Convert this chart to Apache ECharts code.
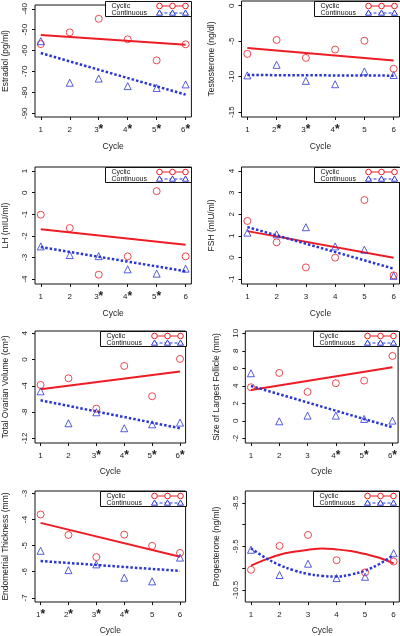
<!DOCTYPE html>
<html><head><meta charset="utf-8">
<script src="https://cdn.jsdelivr.net/npm/echarts@6/dist/echarts.min.js"></script>
<style>html,body{margin:0;padding:0;background:#fff}#c{width:400px;height:636px}</style>
</head><body><div id="c"></div>
<script>
// ---------- data ----------
const cycles = [1, 2, 3, 4, 5, 6];
const fitCycles = [1, 6];

const estradiolCyclic = [-56.9, -51.3, -44.8, -54.6, -64.7, -57.0];
const estradiolContinuous = [-55.5, -75.4, -73.4, -77.0, -77.9, -76.2];
const estradiolCyclicFit = [-52.6, -57.2];
const estradiolContinuousFit = [-61.2, -81.1];
const estradiolTicks = [-90, -80, -70, -60, -50, -40];
const estradiolCycleLabels = ['1', '2', '3*', '4*', '5*', '6*'];

const testosteroneCyclic = [-6.8, -4.84, -7.36, -6.19, -4.94, -8.9];
const testosteroneContinuous = [-9.83, -8.34, -10.6, -11.08, -9.27, -9.78];
const testosteroneCyclicFit = [-5.96, -7.73];
const testosteroneContinuousFit = [-9.78, -9.87];
const testosteroneTicks = [-15, -10, -5, 0];
const testosteroneCycleLabels = ['1', '2*', '3*', '4*', '5', '6'];

const lhCyclic = [-1.02, -1.64, -3.8, -2.95, 0.07, -2.95];
const lhContinuous = [-2.49, -2.89, -2.94, -3.55, -3.75, -3.52];
const lhCyclicFit = [-1.69, -2.41];
const lhContinuousFit = [-2.52, -3.64];
const lhTicks = [-4, -3, -2, -1, 0, 1];
const lhCycleLabels = ['1', '2', '3*', '4*', '5*', '6'];

const fshCyclic = [1.69, 0.70, -0.46, -0.01, 2.66, -0.83];
const fshContinuous = [1.15, 1.07, 1.40, 0.51, 0.36, -0.85];
const fshCyclicFit = [1.22, -0.01];
const fshContinuousFit = [1.41, -0.52];
const fshTicks = [-1, 0, 1, 2, 3, 4];
const fshCycleLabels = ['1', '2', '3', '4', '5', '6'];

const ovaryCyclic = [-3.87, -2.86, -7.48, -0.98, -5.6, 0.09];
const ovaryContinuous = [-4.84, -9.71, -8.04, -10.47, -9.87, -9.61];
const ovaryCyclicFit = [-4.53, -1.84];
const ovaryContinuousFit = [-6.21, -10.47];
const ovaryTicks = [-12, -8, -4, 0, 4];
const ovaryCycleLabels = ['1', '2', '3*', '4*', '5*', '6*'];

const follicleCyclic = [3.83, 5.47, 3.3, 4.29, 4.59, 7.41];
const follicleContinuous = [5.43, -0.06, 0.59, 0.59, 0.21, 0.02];
const follicleCyclicFit = [3.52, 6.11];
const follicleContinuousFit = [3.98, -0.74];
const follicleTicks = [-2, 0, 2, 4, 6, 8, 10];
const follicleCycleLabels = ['1', '2', '3', '4*', '5*', '6*'];

const endoCyclic = [-3.81, -4.59, -5.44, -4.58, -5.01, -5.28];
const endoContinuous = [-5.2, -5.94, -5.72, -6.23, -6.37, -5.46];
const endoCyclicFit = [-4.13, -5.43];
const endoContinuousFit = [-5.59, -5.97];
const endoTicks = [-7, -6, -5, -4, -3];
const endoCycleLabels = ['1*', '2*', '3*', '4*', '5', '6'];

const progCyclic = [-10.04, -9.49, -9.24, -9.82, -10.1, -9.85];
const progContinuous = [-9.58, -10.16, -9.9, -10.23, -10.2, -9.66];
const progFitCycles = [1, 1.5, 2, 2.5, 3, 3.5, 4, 4.5, 5, 5.5, 6];
const progCyclicFit = [-9.945, -9.808, -9.694, -9.625, -9.580, -9.549, -9.572, -9.610, -9.679, -9.762, -9.892];
const progContinuousFit = [-9.549, -9.762, -9.930, -10.051, -10.135, -10.181, -10.196, -10.150, -10.059, -9.907, -9.700];
const progTicks = [-10.5, -10, -9.5, -9, -8.5];
const progTickLabels = [-10.5, -9.5, -8.5];
const progCycleLabels = ['1', '2', '3', '4', '5', '6'];

// ---------- layout / styles ----------
const RED = '#ee1c24';
const BLUE = '#2a35d8';
const FONT = 'Liberation Sans, Arial, sans-serif';

const panels = [
  {title: 'Estradiol (pg/ml)', cyc: estradiolCyclic, con: estradiolContinuous, cycFit: estradiolCyclicFit, conFit: estradiolContinuousFit, fitX: fitCycles, ticks: estradiolTicks, tickLabels: estradiolTicks, xl: estradiolCycleLabels, ymin: -91.8, ymax: -38.2, rect: [32.4, 1, 159, 116], nameGap: 25, xNameGap: 25},
  {title: 'Testosterone (ng/dl)', cyc: testosteroneCyclic, con: testosteroneContinuous, cycFit: testosteroneCyclicFit, conFit: testosteroneContinuousFit, fitX: fitCycles, ticks: testosteroneTicks, tickLabels: testosteroneTicks, xl: testosteroneCycleLabels, ymin: -15.7, ymax: 0.66, rect: [241.5, 1, 158, 116], nameGap: 25, xNameGap: 25},
  {title: 'LH (mIU/ml)', cyc: lhCyclic, con: lhContinuous, cycFit: lhCyclicFit, conFit: lhContinuousFit, fitX: fitCycles, ticks: lhTicks, tickLabels: lhTicks, xl: lhCycleLabels, ymin: -4.23, ymax: 1.19, rect: [32.4, 167, 159, 117], nameGap: 25, xNameGap: 25},
  {title: 'FSH (mIU/ml)', cyc: fshCyclic, con: fshContinuous, cycFit: fshCyclicFit, conFit: fshContinuousFit, fitX: fitCycles, ticks: fshTicks, tickLabels: fshTicks, xl: fshCycleLabels, ymin: -1.23, ymax: 4.19, rect: [241.5, 167, 158, 117], nameGap: 25, xNameGap: 25},
  {title: 'Total Ovarian Volume (cm³)', cyc: ovaryCyclic, con: ovaryContinuous, cycFit: ovaryCyclicFit, conFit: ovaryContinuousFit, fitX: fitCycles, ticks: ovaryTicks, tickLabels: ovaryTicks, xl: ovaryCycleLabels, ymin: -12.72, ymax: 4.35, rect: [31.6, 331, 154, 112], nameGap: 25, xNameGap: 24},
  {title: 'Size of Largest Follicle (mm)', cyc: follicleCyclic, con: follicleContinuous, cycFit: follicleCyclicFit, conFit: follicleContinuousFit, fitX: fitCycles, ticks: follicleTicks, tickLabels: follicleTicks, xl: follicleCycleLabels, ymin: -2.54, ymax: 10.26, rect: [245.3, 331, 154, 112], nameGap: 24, xNameGap: 24},
  {title: 'Endometrial Thickness (mm)', cyc: endoCyclic, con: endoContinuous, cycFit: endoCyclicFit, conFit: endoContinuousFit, fitX: fitCycles, ticks: endoTicks, tickLabels: endoTicks, xl: endoCycleLabels, ymin: -7.16, ymax: -2.91, rect: [31.6, 491, 154, 112], nameGap: 25, xNameGap: 24},
  {title: 'Progesterone (ng/ml)', cyc: progCyclic, con: progContinuous, cycFit: progCyclicFit, conFit: progContinuousFit, fitX: progFitCycles, smooth: true, ticks: progTicks, tickLabels: progTickLabels, xl: progCycleLabels, ymin: -10.78, ymax: -8.23, rect: [245.3, 491, 154, 112], nameGap: 24, xNameGap: 24}
];

const grids = [], xAxes = [], yAxes = [], series = [], graphics = [];

panels.forEach((p, i) => {
  const [l, t, w, h] = p.rect;
  grids.push({left: l, top: t, width: w, height: h, show: true, borderColor: '#111', borderWidth: 1, backgroundColor: 'transparent'});
  xAxes.push({
    gridIndex: i, type: 'value', min: 0.8, max: 6.2,
    name: 'Cycle', nameLocation: 'middle', nameGap: p.xNameGap,
    nameTextStyle: {fontFamily: FONT, fontSize: 8.5, color: '#222'},
    axisLine: {show: false, onZero: false},
    splitLine: {show: false},
    axisTick: {show: true, length: 3, customValues: cycles, lineStyle: {color: '#111'}},
    axisLabel: {
      customValues: cycles, margin: 8, fontFamily: FONT, fontSize: 8, lineHeight: 9, color: '#222',
      formatter: v => p.xl[Math.round(v) - 1].replace('*', '{s|*}'),
      rich: {s: {fontFamily: FONT, fontSize: 12, fontWeight: 'bold', lineHeight: 9, color: '#222'}}
    }
  });
  yAxes.push({
    gridIndex: i, type: 'value', min: p.ymin, max: p.ymax,
    name: p.title, nameLocation: 'middle', nameGap: p.nameGap,
    nameTextStyle: {fontFamily: FONT, fontSize: 8.5, color: '#222'},
    axisLine: {show: false, onZero: false},
    splitLine: {show: false},
    axisTick: {show: true, length: 3, customValues: p.ticks, lineStyle: {color: '#111'}},
    axisLabel: {customValues: p.tickLabels, rotate: 90, margin: 6, fontFamily: FONT, fontSize: 8, color: '#222'}
  });
  series.push({
    type: 'scatter', xAxisIndex: i, yAxisIndex: i, symbol: 'circle', symbolSize: 7,
    itemStyle: {color: 'rgba(0,0,0,0)', borderColor: RED, borderWidth: 1},
    data: cycles.map((c, k) => [c, p.cyc[k]]), z: 3
  });
  series.push({
    type: 'scatter', xAxisIndex: i, yAxisIndex: i, symbol: 'triangle', symbolSize: 7,
    itemStyle: {color: 'rgba(0,0,0,0)', borderColor: BLUE, borderWidth: 1},
    data: cycles.map((c, k) => [c, p.con[k]]), z: 3
  });
  series.push({
    type: 'line', xAxisIndex: i, yAxisIndex: i, showSymbol: false, smooth: p.smooth ? 0.4 : false,
    lineStyle: {color: RED, width: 2}, data: p.fitX.map((c, k) => [c, p.cycFit[k]]), z: 2
  });
  series.push({
    type: 'line', xAxisIndex: i, yAxisIndex: i, showSymbol: false, smooth: p.smooth ? 0.4 : false,
    lineStyle: {color: BLUE, width: 2.5, type: [2.5, 2]}, data: p.fitX.map((c, k) => [c, p.conFit[k]]), z: 2
  });

  // legend box (top-right of each panel)
  const lw = 86, lh = 15;
  const x0 = Math.round(l + w - lw) + 0.5, y0 = Math.round(t) + 0.5;
  const r1 = 4.5, r2 = 11.5, sx = [54, 67, 80];
  const kids = [
    {type: 'rect', shape: {x: 0, y: 0, width: lw, height: lh}, style: {fill: '#fff', stroke: '#111', lineWidth: 1}},
    {type: 'text', x: 6, y: r1, style: {text: 'Cyclic', fontFamily: FONT, fontSize: 7, fill: '#111', verticalAlign: 'middle'}},
    {type: 'text', x: 6, y: r2, style: {text: 'Continuous', fontFamily: FONT, fontSize: 7, fill: '#111', verticalAlign: 'middle'}},
    {type: 'line', shape: {x1: sx[0], y1: r1, x2: sx[2], y2: r1}, style: {stroke: RED, lineWidth: 1}},
    {type: 'line', shape: {x1: sx[0], y1: r2, x2: sx[2], y2: r2}, style: {stroke: BLUE, lineWidth: 1, lineDash: [3, 2]}}
  ];
  sx.forEach(cx => {
    kids.push({type: 'circle', shape: {cx: cx, cy: r1, r: 2.8}, style: {fill: '#fff', stroke: RED, lineWidth: 1}});
    kids.push({type: 'polygon', shape: {points: [[cx, r2 - 3], [cx - 3, r2 + 2.2], [cx + 3, r2 + 2.2]]}, style: {fill: '#fff', stroke: BLUE, lineWidth: 1}});
  });
  graphics.push({type: 'group', x: x0, y: y0, z: 100, children: kids});
});

const chart = echarts.init(document.getElementById('c'), null, {renderer: 'canvas'});
chart.setOption({
  animation: false,
  backgroundColor: '#fff',
  grid: grids, xAxis: xAxes, yAxis: yAxes, series: series, graphic: graphics
});
</script></body></html>
